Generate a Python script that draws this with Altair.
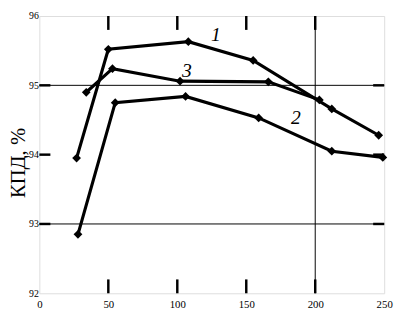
import altair as alt
import pandas as pd

# ---- data ----
c1_x = [27, 50, 108, 155, 212, 246]
c1_y = [93.95, 95.52, 95.63, 95.36, 94.66, 94.28]
c3_x = [34, 53, 102, 166, 203]
c3_y = [94.90, 95.24, 95.06, 95.05, 94.79]
c2_x = [28, 55, 106, 159, 212, 249]
c2_y = [92.85, 94.75, 94.84, 94.53, 94.05, 93.96]

x_ticks = [0, 50, 100, 150, 200, 250]
y_ticks = [92, 93, 94, 95, 96]
grid_y = [93, 95]
grid_x = [200]

label_text = ["1", "3", "2"]
label_x = [128, 107, 186]
label_y = [95.73, 95.21, 94.53]

rows = []
for name, xs, ys in (("1", c1_x, c1_y), ("3", c3_x, c3_y), ("2", c2_x, c2_y)):
    for a, b in zip(xs, ys):
        rows.append({"curve": name, "x": a, "y": b})
df = pd.DataFrame(rows)

X = alt.X("x:Q", scale=alt.Scale(domain=[0, 250], nice=False, zero=False),
          axis=alt.Axis(values=x_ticks, format="d", title=None, ticks=False, domain=False, grid=False,
                        labelFont="Liberation Serif", labelFontSize=11, labelColor="black",
                        labelPadding=6, labelFlush=False))
Y = alt.Y("y:Q", scale=alt.Scale(domain=[92, 96], nice=False, zero=False),
          axis=alt.Axis(values=y_ticks, format="d", title=None, ticks=False, domain=False, grid=False,
                        labelFont="Liberation Serif", labelFontSize=10, labelColor="black",
                        labelPadding=1, labelFlush=False))

lines = alt.Chart(df).mark_line(color="black", strokeWidth=3.2).encode(
    x=X, y=Y, detail="curve:N", order="x:Q")
points = alt.Chart(df).mark_point(shape="diamond", filled=True, color="black", size=80, opacity=1).encode(
    x="x:Q", y="y:Q")

# gridlines
gy = alt.Chart(pd.DataFrame({"y": grid_y})).mark_rule(color="black", strokeWidth=1).encode(y="y:Q")
gx = alt.Chart(pd.DataFrame({"x": grid_x})).mark_rule(color="black", strokeWidth=1).encode(x="x:Q")

# inward tick marks
xt = [t for t in x_ticks if 0 < t < 250]
yt = [t for t in y_ticks if 92 < t < 96]
xtick_rows = [{"x": t, "y": 92, "y2": 92.2} for t in xt] + [{"x": t, "y": 95.8, "y2": 96} for t in xt]
ytick_rows = [{"y": t, "x": 0, "x2": 8} for t in yt] + [{"y": t, "x": 242, "x2": 250} for t in yt]
xtk = alt.Chart(pd.DataFrame(xtick_rows)).mark_rule(color="black", strokeWidth=2.5).encode(
    x="x:Q", y="y:Q", y2="y2:Q")
ytk = alt.Chart(pd.DataFrame(ytick_rows)).mark_rule(color="black", strokeWidth=2.5).encode(
    y="y:Q", x="x:Q", x2="x2:Q")

labels = alt.Chart(pd.DataFrame({"t": label_text, "x": label_x, "y": label_y})).mark_text(
    font="Liberation Serif", fontSize=20, fontStyle="italic", color="black").encode(
    x="x:Q", y="y:Q", text="t:N")

ytitle = alt.Chart(pd.DataFrame({"t": ["КПД, %"]})).mark_text(
    font="Liberation Serif", fontSize=21, angle=270, baseline="alphabetic", align="center",
    color="black").encode(x=alt.value(-15), y=alt.value(150), text="t:N")

chart = alt.layer(gy, gx, xtk, ytk, lines, points, labels, ytitle).properties(
    width=352, height=283,
    autosize=alt.AutoSizeParams(type="none"),
    padding={"left": 32, "top": 5, "right": 10, "bottom": 20},
).configure_view(stroke="black", strokeWidth=2.5).configure(background="white")

chart.save("out.html", embed_options={"renderer": "svg", "actions": False})
